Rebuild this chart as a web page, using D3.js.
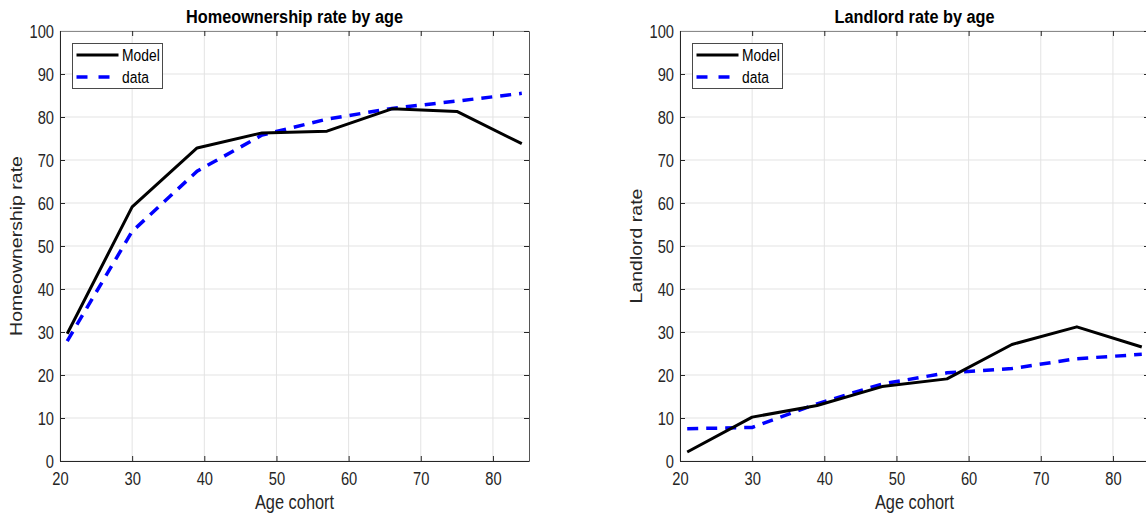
<!DOCTYPE html>
<html>
<head>
<meta charset="utf-8">
<script src="https://cdn.jsdelivr.net/npm/d3@7"></script>
<style>
  html, body { margin: 0; padding: 0; background: #fff; }
  svg { display: block; }
  text { font-family: "Liberation Sans", Arial, Helvetica, sans-serif; }
</style>
</head>
<body>
<svg id="chart" width="1146" height="520"></svg>
<script>
// Age cohorts (x values shared by every series)
const ages = [21, 30, 39, 48, 57, 66, 75, 84];

// Homeownership rate (%)
const homeModel = [29.6, 59.1, 72.8, 76.3, 76.7, 81.9, 81.3, 73.8];
const homeData  = [27.9, 53.4, 67.4, 75.8, 79.5, 82.0, 83.7, 85.5];

// Landlord rate (%)
const landModel = [2.1, 10.2, 12.9, 17.3, 19.1, 27.1, 31.2, 26.5];
const landData  = [7.5, 7.8, 13.3, 17.9, 20.5, 21.5, 23.8, 24.8];

// Axis ticks and labels
const xTicks = [20, 30, 40, 50, 60, 70, 80];
const yTicks = [0, 10, 20, 30, 40, 50, 60, 70, 80, 90, 100];
const xDomain = [20, 85];
const yDomain = [0, 100];
const seriesNames = ["Model", "data"];

const svg = d3.select("#chart");
const SX = 0.84;      // horizontal squash applied to regular text
const SXB = 0.88;     // horizontal squash applied to bold titles
const INK = "#262626";

function panel(cfg) {
  const { left, right, top, bottom, title, ylabel, model, data, clipId } = cfg;
  const x = d3.scaleLinear().domain(xDomain).range([left, right]);
  const y = d3.scaleLinear().domain(yDomain).range([bottom, top]);
  const g = svg.append("g");

  // grid
  g.append("g").selectAll("line").data(xTicks).join("line")
    .attr("x1", d => x(d)).attr("x2", d => x(d))
    .attr("y1", top).attr("y2", bottom)
    .attr("stroke", "#e3e3e3").attr("stroke-width", 1);
  g.append("g").selectAll("line").data(yTicks).join("line")
    .attr("x1", left).attr("x2", right)
    .attr("y1", d => y(d)).attr("y2", d => y(d))
    .attr("stroke", "#e3e3e3").attr("stroke-width", 1);

  // bottom axis with inward ticks
  const ax = g.append("g").attr("transform", `translate(0,${bottom})`)
    .call(d3.axisBottom(x).tickValues(xTicks).tickSizeInner(-5).tickSizeOuter(0));
  // left axis with inward ticks
  const ay = g.append("g").attr("transform", `translate(${left},0)`)
    .call(d3.axisLeft(y).tickValues(yTicks).tickSizeInner(-5).tickSizeOuter(0));
  // top and right axes (box), ticks only
  const axTop = g.append("g").attr("transform", `translate(0,${top})`)
    .call(d3.axisTop(x).tickValues(xTicks).tickSizeInner(-5).tickSizeOuter(0).tickFormat(""));
  const ayRight = g.append("g").attr("transform", `translate(${right},0)`)
    .call(d3.axisRight(y).tickValues(yTicks).tickSizeInner(-5).tickSizeOuter(0).tickFormat(""));

  [ax, ay, axTop, ayRight].forEach(a => {
    a.select(".domain").attr("stroke", INK).attr("stroke-width", 1);
    a.selectAll(".tick line").attr("stroke", INK).attr("stroke-width", 1);
  });
  axTop.select(".domain").attr("stroke", "#8a8a8a");
  ayRight.select(".domain").attr("stroke", "#555");

  ax.selectAll(".tick text")
    .attr("fill", INK).attr("font-size", 17.5)
    .attr("y", 0).attr("dy", 0)
    .attr("transform", `translate(0,24) scale(${SX},1)`);
  ay.selectAll(".tick text")
    .attr("fill", INK).attr("font-size", 17.5)
    .attr("x", 0).attr("dy", "0.35em")
    .attr("transform", `translate(-6,0) scale(${SX},1)`);

  // series lines
  const clip = svg.append("clipPath").attr("id", clipId);
  clip.append("rect").attr("x", left).attr("y", top - 5)
    .attr("width", right - left).attr("height", bottom - top + 10);
  const line = d3.line().x((d, i) => x(ages[i])).y(d => y(d));
  const lines = g.append("g").attr("clip-path", `url(#${clipId})`);
  lines.append("path").datum(data)
    .attr("d", line).attr("fill", "none")
    .attr("stroke", "#0000ff").attr("stroke-width", 3.5)
    .attr("stroke-dasharray", "11,8");
  lines.append("path").datum(model)
    .attr("d", line).attr("fill", "none")
    .attr("stroke", "#000").attr("stroke-width", 3)
    .attr("stroke-linejoin", "round");

  // title
  g.append("text")
    .attr("transform", `translate(${(left + right) / 2},${top - 8.5}) scale(${SXB},1)`)
    .attr("text-anchor", "middle").attr("font-size", 18.5).attr("font-weight", "bold")
    .attr("fill", "#000").text(title);

  // axis labels
  g.append("text")
    .attr("transform", `translate(${(left + right) / 2},${bottom + 48}) scale(${SX},1)`)
    .attr("text-anchor", "middle").attr("font-size", 19.5)
    .attr("fill", INK).text("Age cohort");
  g.append("text")
    .attr("transform", `translate(${left - 38},${(top + bottom) / 2}) rotate(-90) scale(1,${SX})`)
    .attr("text-anchor", "middle").attr("font-size", 19.5)
    .attr("fill", INK).text(ylabel);

  // legend
  const lg = g.append("g").attr("transform", `translate(${left + 12},${top + 12})`);
  lg.append("rect").attr("x", 0.5).attr("y", 0.5).attr("width", 90).attr("height", 45)
    .attr("fill", "#fff").attr("stroke", "#4a4a4a").attr("stroke-width", 1);
  const rows = [
    { name: seriesNames[0], color: "#000", dash: null, w: 3 },
    { name: seriesNames[1], color: "#0000ff", dash: "11,11", w: 3.5 }
  ];
  rows.forEach((r, i) => {
    const yy = 12 + i * 22;
    lg.append("line").attr("x1", 4.5).attr("x2", 46.5).attr("y1", yy).attr("y2", yy)
      .attr("stroke", r.color).attr("stroke-width", r.w)
      .attr("stroke-dasharray", r.dash);
    lg.append("text")
      .attr("transform", `translate(50,${yy}) scale(${SX},1)`)
      .attr("dy", "0.35em").attr("font-size", 16.5).attr("fill", "#000").text(r.name);
  });
}

panel({ left: 60, right: 529, top: 31, bottom: 461,
        title: "Homeownership rate by age", ylabel: "Homeownership rate",
        model: homeModel, data: homeData, clipId: "clipA" });
panel({ left: 680, right: 1149, top: 31, bottom: 461,
        title: "Landlord rate by age", ylabel: "Landlord rate",
        model: landModel, data: landData, clipId: "clipB" });
</script>
</body>
</html>
